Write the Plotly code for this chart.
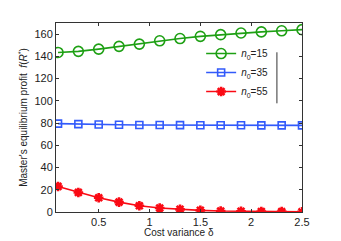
import plotly.graph_objects as go

delta = [0.1, 0.3, 0.5, 0.7, 0.9, 1.1, 1.3, 1.5, 1.7, 1.9, 2.1, 2.3, 2.5]
profit_n15 = [143.5, 144.5, 146.5, 149, 151, 154, 156, 158, 159.5, 161, 162, 163, 164]
profit_n35 = [79.5, 79, 78.7, 78.5, 78.3, 78.2, 78.1, 78, 78, 78, 77.9, 77.9, 77.9]
profit_n55 = [23, 17.6, 12.8, 8.9, 5.6, 3.6, 2.4, 1.5, 0.9, 0.6, 0.4, 0.3, 0.2]
series_names = ["<i>n</i><sub>0</sub>=15", "<i>n</i><sub>0</sub>=35", "<i>n</i><sub>0</sub>=55"]
x_ticks = [0.5, 1, 1.5, 2, 2.5]
x_tick_labels = ["0.5", "1", "1.5", "2", "2.5"]
y_ticks = [0, 20, 40, 60, 80, 100, 120, 140, 160]

green = "rgb(30,160,20)"
blue = "rgb(50,90,250)"
red = "rgb(250,10,20)"
font_family = "Liberation Sans, Arial"

fig = go.Figure()
fig.add_trace(go.Scatter(x=delta, y=profit_n15, name=series_names[0], mode="lines+markers",
                         line=dict(color=green, width=1.6),
                         marker=dict(symbol="circle-open", size=10, color=green, line=dict(width=1.6, color=green))))
fig.add_trace(go.Scatter(x=delta, y=profit_n35, name=series_names[1], mode="lines+markers",
                         line=dict(color=blue, width=1.6),
                         marker=dict(symbol="square-open", size=7, color=blue, line=dict(width=1.6, color=blue))))
fig.add_trace(go.Scatter(x=delta, y=profit_n55, name=series_names[2], mode="lines+markers",
                         line=dict(color=red, width=1.6),
                         marker=dict(symbol="asterisk-open", size=8, color=red, line=dict(width=2.6, color=red))))

axis_common = dict(showline=True, linecolor="#333", linewidth=1, mirror="ticks", ticks="inside",
                   ticklen=3, tickcolor="#333", showgrid=False, zeroline=False,
                   tickfont=dict(family=font_family, size=11, color="#222"))

fig.update_xaxes(range=[0.08, 2.5], tickvals=x_ticks, ticktext=x_tick_labels, **axis_common)
fig.update_yaxes(range=[0, 170], tickvals=y_ticks,
                 title=dict(text="Master's equilibrium profit  <i>f</i>(<i>R</i><sup>*</sup>)",
                            font=dict(family=font_family, size=10, color="#222"), standoff=4),
                 **axis_common)

fig.add_annotation(text="Cost variance δ", xref="paper", yref="paper", x=0.5, y=-0.11,
                   xanchor="center", yanchor="middle", showarrow=False,
                   font=dict(family=font_family, size=10, color="#222"))

fig.add_shape(type="line", xref="paper", yref="paper", x0=0.898, x1=0.898, y0=0.575, y1=0.845,
              line=dict(color="#333", width=1))

fig.update_layout(
    width=341, height=241,
    margin=dict(l=48, r=47, t=15, b=37),
    paper_bgcolor="white", plot_bgcolor="white",
    showlegend=True,
    legend=dict(x=0.59, y=0.915, xanchor="left", yanchor="top", bgcolor="rgba(0,0,0,0)",
                font=dict(family=font_family, size=10, color="#222"),
                tracegroupgap=0, itemwidth=30),
)

fig.write_html("out.html")
